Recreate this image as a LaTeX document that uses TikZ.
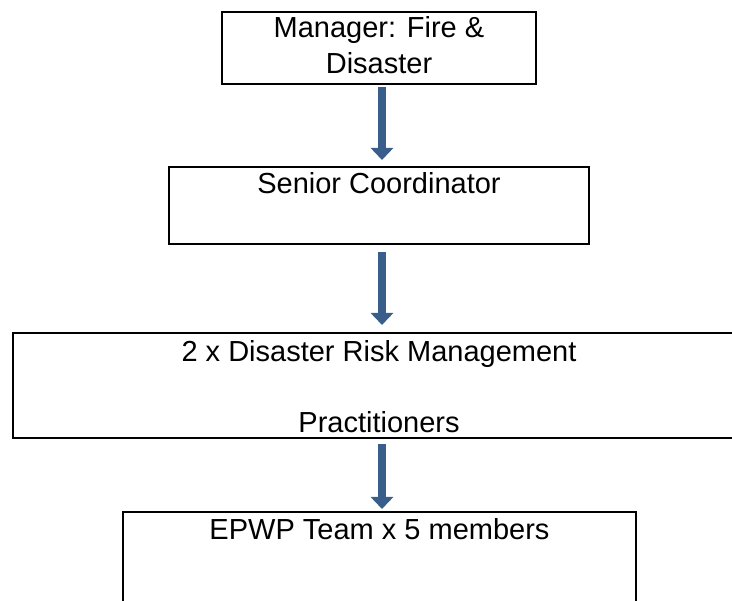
\documentclass[tikz,border=0pt]{standalone}
\usepackage{fontspec}
\setmainfont{Liberation Sans}
\usetikzlibrary{arrows.meta}
\definecolor{arrowblue}{RGB}{58,94,140}
\begin{document}
\begin{tikzpicture}[x=1pt, y=-1pt,
      box/.style={draw, line width=2pt, inner sep=0pt, align=center, anchor=north, font=\fontsize{29}{35.5}\selectfont},
      arr/.style={line width=8pt, arrowblue, -{Triangle[width=22pt, length=12pt]}}]
            \path[use as bounding box, clip] (0,0) rectangle (732,601);
            \node[box, minimum width=314pt, text height=61.5pt, text depth=10.5pt] (1) at (379, 11) {Manager: Fire \&\\Disaster};
            \node[box, minimum width=420pt, text height=62.5pt, text depth=14.5pt] (2) at (379, 166) {Senior Coordinator\\ };
            \node[box, minimum width=732pt, text height=100pt, text depth=5pt] (3) at (379, 332) {2 x Disaster Risk Management\\ \\Practitioners};
            \node[box, minimum width=513pt, text height=28pt, text depth=100pt] (4) at (379.5, 511) {EPWP Team x 5 members};
            \draw[arr] ([xshift=3pt, yshift=-2pt]1.south) -- ([xshift=3pt, yshift=6pt]2.north);
            \draw[arr] ([xshift=3pt, yshift=-7pt]2.south) -- ([xshift=3pt, yshift=7pt]3.north);
            \draw[arr] ([xshift=3pt, yshift=-5pt]3.south) -- ([xshift=2.5pt, yshift=2pt]4.north);
\end{tikzpicture}
\end{document}
